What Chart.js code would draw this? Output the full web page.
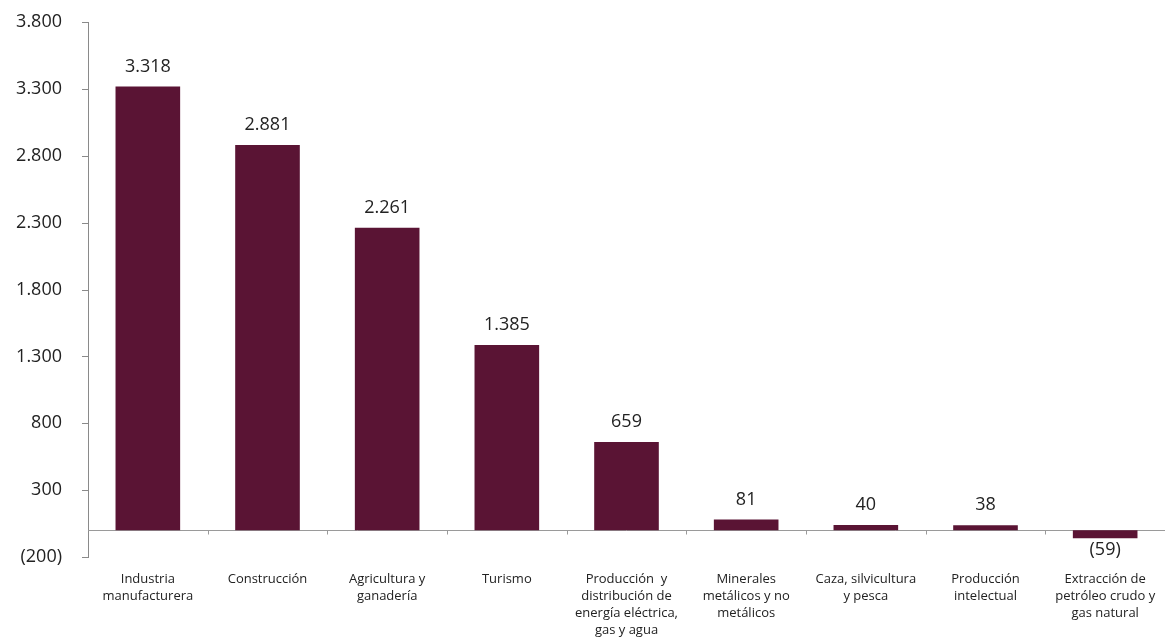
<!DOCTYPE html>
<html>
<head>
<meta charset="utf-8">
<script src="https://cdn.jsdelivr.net/npm/chart.js@4"></script>
<style>
    html, body { margin: 0; padding: 0; background: #ffffff; }
    #wrap { width: 1166px; height: 643px; position: relative; }
</style>
</head>
<body>
<div id="wrap"><canvas id="chart"></canvas></div>
<script>
const sectores = [
    ["Industria", "manufacturera"],
    ["Construcción"],
    ["Agricultura y", "ganadería"],
    ["Turismo"],
    ["Producción  y", "distribución de", "energía eléctrica,", "gas y agua"],
    ["Minerales", "metálicos y no", "metálicos"],
    ["Caza, silvicultura", "y pesca"],
    ["Producción", "intelectual"],
    ["Extracción de", "petróleo crudo y", "gas natural"]
];
const valores = [3318, 2881, 2261, 1385, 659, 81, 40, 38, -59];

const yMin = -200;
const yMax = 3800;
const yPaso = 500;

const colorBarra = "#5a1434";
const colorEje = "#8a8a8a";

// formato 3.318 / (59)
function formato(v) {
    const s = Math.abs(v).toLocaleString("de-DE");
    return v < 0 ? "(" + s + ")" : s;
}

// linea del cero con marcas entre categorias, y marcas cortas del eje y
const lineas = {
    id: "lineas",
    beforeDatasetsDraw(chart) {
        const ctx = chart.ctx;
        const x = chart.scales.x;
        const y = chart.scales.y;
        const y0 = Math.round(y.getPixelForValue(0)) + 0.5;
        ctx.save();
        ctx.strokeStyle = "#9a9a9a";
        ctx.lineWidth = 1;
        ctx.beginPath();
        ctx.moveTo(chart.chartArea.left, y0);
        ctx.lineTo(chart.chartArea.right, y0);
        for (let i = 1; i < sectores.length; i++) {
            const xb = Math.round((x.getPixelForValue(i - 1) + x.getPixelForValue(i)) / 2) + 0.5;
            ctx.moveTo(xb, y0);
            ctx.lineTo(xb, y0 + 4);
        }
        ctx.stroke();

        ctx.strokeStyle = colorEje;
        ctx.beginPath();
        const xl = chart.chartArea.left;
        y.ticks.forEach(t => {
            const py = Math.round(y.getPixelForValue(t.value)) + 0.5;
            ctx.moveTo(xl - 6, py);
            ctx.lineTo(xl, py);
        });
        ctx.stroke();
        ctx.restore();
    }
};

// valores sobre (o bajo) cada barra
const etiquetas = {
    id: "etiquetas",
    afterDatasetsDraw(chart) {
        const ctx = chart.ctx;
        const meta = chart.getDatasetMeta(0);
        ctx.save();
        ctx.font = "18px 'Open Sans'";
        ctx.fillStyle = "#222222";
        ctx.textAlign = "center";
        meta.data.forEach((bar, i) => {
            const v = valores[i];
            if (v >= 0) {
                ctx.textBaseline = "bottom";
                ctx.fillText(formato(v), bar.x, bar.y - 11);
            } else {
                ctx.textBaseline = "top";
                ctx.fillText(formato(v), bar.x, bar.y + 3);
            }
        });
        ctx.restore();
    }
};

new Chart(document.getElementById("chart"), {
    type: "bar",
    data: {
        labels: sectores,
        datasets: [{
            data: valores,
            backgroundColor: colorBarra,
            borderWidth: 0,
            barPercentage: 0.54,
            categoryPercentage: 1
        }]
    },
    options: {
        responsive: true,
        maintainAspectRatio: false,
        animation: false,
        layout: { autoPadding: false, padding: { top: 22, right: 1, left: 0, bottom: 0 } },
        plugins: {
            legend: { display: false },
            tooltip: { enabled: false }
        },
        scales: {
            x: {
                grid: { drawOnChartArea: false, drawTicks: true, tickLength: 14, color: "transparent" },
                border: { display: false },
                ticks: {
                    color: "#222222",
                    font: { family: "'Open Sans'", size: 13, lineHeight: 1.3 },
                    padding: 0,
                    maxRotation: 0,
                    autoSkip: false
                },
                afterFit(scale) { scale.height = 86; }
            },
            y: {
                min: yMin,
                max: yMax,
                grid: { drawOnChartArea: false, tickLength: 26, tickColor: "transparent", color: colorEje },
                border: { color: colorEje },
                ticks: {
                    stepSize: yPaso,
                    color: "#222222",
                    font: { family: "'Open Sans'", size: 18 },
                    padding: 0,
                    callback: v => formato(v)
                },
                afterFit(scale) { scale.width = 88; }
            }
        }
    },
    plugins: [lineas, etiquetas]
});
</script>
</body>
</html>
